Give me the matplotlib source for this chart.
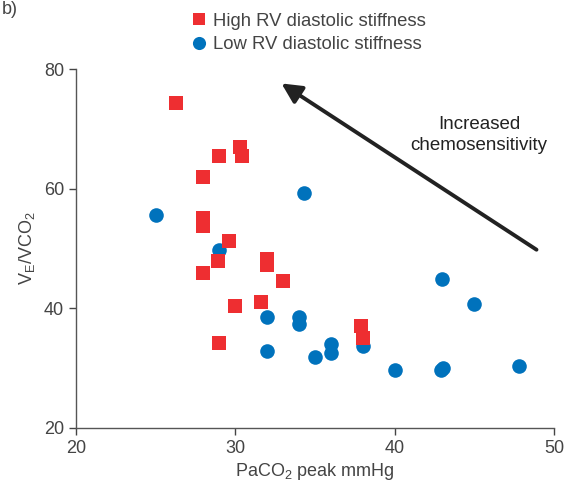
import matplotlib.pyplot as plt

plt.rcParams['font.family'] = ['Liberation Sans', 'DejaVu Sans']
plt.rcParams['mathtext.fontset'] = 'custom'
plt.rcParams['mathtext.rm'] = 'Liberation Sans'

# --- Data ---
high_x = [26.3, 30.3, 30.4, 29.0, 28.0, 28.0, 28.0, 29.6, 28.9, 28.0,
          32.0, 32.0, 33.0, 30.0, 31.6, 29.0, 37.9, 38.0]
high_y = [74.4, 67.0, 65.5, 65.5, 62.0, 55.1, 53.7, 51.3, 47.9, 45.9,
          48.3, 47.3, 44.6, 40.4, 41.0, 34.2, 37.1, 35.0]

low_x = [25.0, 29.0, 34.3, 32.0, 34.0, 34.0, 32.0, 35.0, 36.0, 36.0,
         38.0, 40.0, 42.9, 43.05, 47.8, 43.0, 45.0]
low_y = [55.6, 49.7, 59.2, 38.6, 38.6, 37.3, 32.8, 31.9, 34.0, 32.6,
         33.7, 29.7, 29.7, 30.0, 30.4, 44.9, 40.7]

x_ticks = [20, 30, 40, 50]
y_ticks = [20, 40, 60, 80]

RED = '#EE2E31'
BLUE = '#0072BC'
GREY = '#444444'

fig = plt.figure(figsize=(5.7, 4.97), dpi=100)
ax = fig.add_axes([0.133, 0.139, 0.839, 0.722])

ax.plot(high_x, high_y, 's', color=RED, markersize=10, markeredgewidth=0,
        label='High RV diastolic stiffness', zorder=3)
ax.plot(low_x, low_y, 'o', color=BLUE, markersize=10.5, markeredgewidth=0,
        label='Low RV diastolic stiffness', zorder=2)

# --- Arrow and annotation ---
ax.annotate('', xy=(32.9, 77.6), xytext=(48.9, 49.8),
            arrowprops=dict(arrowstyle='-|>,head_length=1.2,head_width=0.6',
                            color='#222222', lw=2.8, shrinkA=0, shrinkB=0))
ax.text(45.3, 69.0, 'Increased\nchemosensitivity', ha='center', va='center',
        fontsize=13.5, color='#222222', linespacing=1.3)

ax.set_xlim(20, 50)
ax.set_ylim(20, 80)
ax.set_xticks(x_ticks)
ax.set_yticks(y_ticks)
ax.tick_params(labelsize=13, colors=GREY, direction='out', length=5, width=1)
ax.spines['top'].set_visible(False)
ax.spines['right'].set_visible(False)
for s in ['left', 'bottom']:
    ax.spines[s].set_color('#555555')
    ax.spines[s].set_linewidth(1)
ax.spines['left'].set_bounds(20, 80)

ax.set_xlabel(r'PaCO$_2$ peak mmHg', fontsize=13, color=GREY, labelpad=3)
ax.set_ylabel(r'V$_\mathrm{E}$/VCO$_2$', fontsize=13, color=GREY, labelpad=5)

leg = ax.legend(loc='upper left', bbox_to_anchor=(0.31, 1.0),
                bbox_transform=fig.transFigure, frameon=False, fontsize=13.3,
                handletextpad=0.25, labelspacing=0.35, borderaxespad=0.3,
                handlelength=1.0, markerscale=0.9)
for t in leg.get_texts():
    t.set_color(GREY)

fig.text(0.003, 0.997, 'b)', fontsize=13, color=GREY, va='top', ha='left')

fig.savefig('out.png', dpi=100)
